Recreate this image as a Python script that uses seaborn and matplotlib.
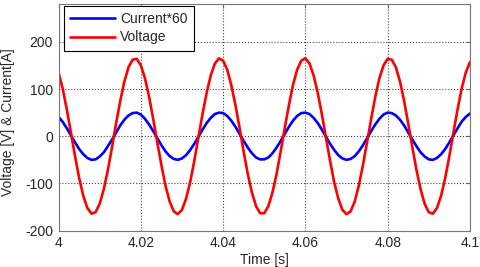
import numpy as np
import pandas as pd
import matplotlib
matplotlib.use("Agg")
import matplotlib.pyplot as plt
import seaborn as sns

sns.set_style("white")
plt.rcParams["font.family"] = ["Liberation Sans", "DejaVu Sans"]
plt.rcParams["axes.unicode_minus"] = False

# sample times, 1 ms apart
time = np.linspace(4.0, 4.1, 101)

voltage = [
    135, 101, 57, 8, -42, -88, -126, -152, -164, -161,
    -143, -112, -71, -23, 28, 75, 116, 146, 162, 164,
    150, 123, 84, 37, -13, -61, -105, -138, -159, -165,
    -156, -132, -97, -52, -2, 47, 92, 129, 154, 165,
    160, 141, 108, 66, 18, -33, -80, -119, -148, -163,
    -163, -148, -119, -80, -32, 18, 66, 109, 141, 160,
    165, 154, 129, 92, 47, -3, -52, -97, -132, -156,
    -165, -159, -138, -104, -61, -12, 37, 84, 123, 150,
    164, 162, 146, 116, 75, 27, -23, -71, -112, -143,
    -161, -164, -152, -126, -88, -42, 8, 57, 101, 135,
    157,
]

current60 = [
    41, 30.5, 17, 2, -13, -27, -38, -46, -50, -49,
    -43, -34, -21, -7, 8, 23, 35, 44, 49, 50,
    46, 37, 25, 11, -4, -19, -32, -42, -48, -50,
    -47, -40, -29, -16, -1, 14, 28, 39, 47, 50,
    49, 43, 33, 20, 5, -10, -24, -36, -45, -49,
    -49, -45, -36, -24, -10, 5, 20, 33, 43, 49,
    50, 47, 39, 28, 14, -1, -16, -29, -40, -47,
    -50, -48, -42, -32, -19, -4, 11, 25, 37, 46,
    50, 49, 44, 35, 23, 8, -7, -21, -34, -43,
    -49, -50, -46, -38, -27, -13, 2, 17, 31, 41,
    48,
]

signals = ["Current*60", "Voltage"]
colors = {"Current*60": "#0000ff", "Voltage": "#ff0000"}

df = pd.DataFrame({
    "Time": np.concatenate([time, time]),
    "Value": current60 + voltage,
    "Signal": [signals[0]] * len(time) + [signals[1]] * len(time),
})

fig = plt.figure(figsize=(4.8, 2.67), dpi=100)
ax = fig.add_axes([0.122, 0.136, 0.857, 0.849])

sns.lineplot(
    data=df, x="Time", y="Value", hue="Signal",
    palette=colors, linewidth=1.9, ax=ax,
    estimator=None, sort=False
)

ax.set_xlim(4.0, 4.1)
ax.set_ylim(-200, 280)
ax.set_xticks([4.0, 4.02, 4.04, 4.06, 4.08, 4.1])
ax.set_xticklabels(["4", "4.02", "4.04", "4.06", "4.08", "4.1"])
ax.set_yticks([-200, -100, 0, 100, 200])

ax.grid(True, linestyle=":", color="#444444", linewidth=0.8)
ax.tick_params(direction="in", length=3, top=True, right=True,
               labelsize=10, pad=4, color="#666666")
for s in ax.spines.values():
    s.set_color("#777777")
    s.set_linewidth(0.8)

ax.set_xlabel("Time [s]", fontsize=10)
ax.set_ylabel("Voltage [V] & Current[A]", fontsize=10)
ax.xaxis.set_label_coords(0.5, -0.098)
ax.yaxis.set_label_coords(-0.106, 0.48)

leg = ax.legend(
    loc="upper left", bbox_to_anchor=(0.0134, 0.991), borderaxespad=0,
    fontsize=10, frameon=True, fancybox=False, framealpha=1,
    edgecolor="black", handlelength=3.2, handletextpad=0.4,
    labelspacing=0.3, borderpad=0.45, title=None
)
leg.get_frame().set_linewidth(0.8)

fig.savefig("out.png", dpi=100)
